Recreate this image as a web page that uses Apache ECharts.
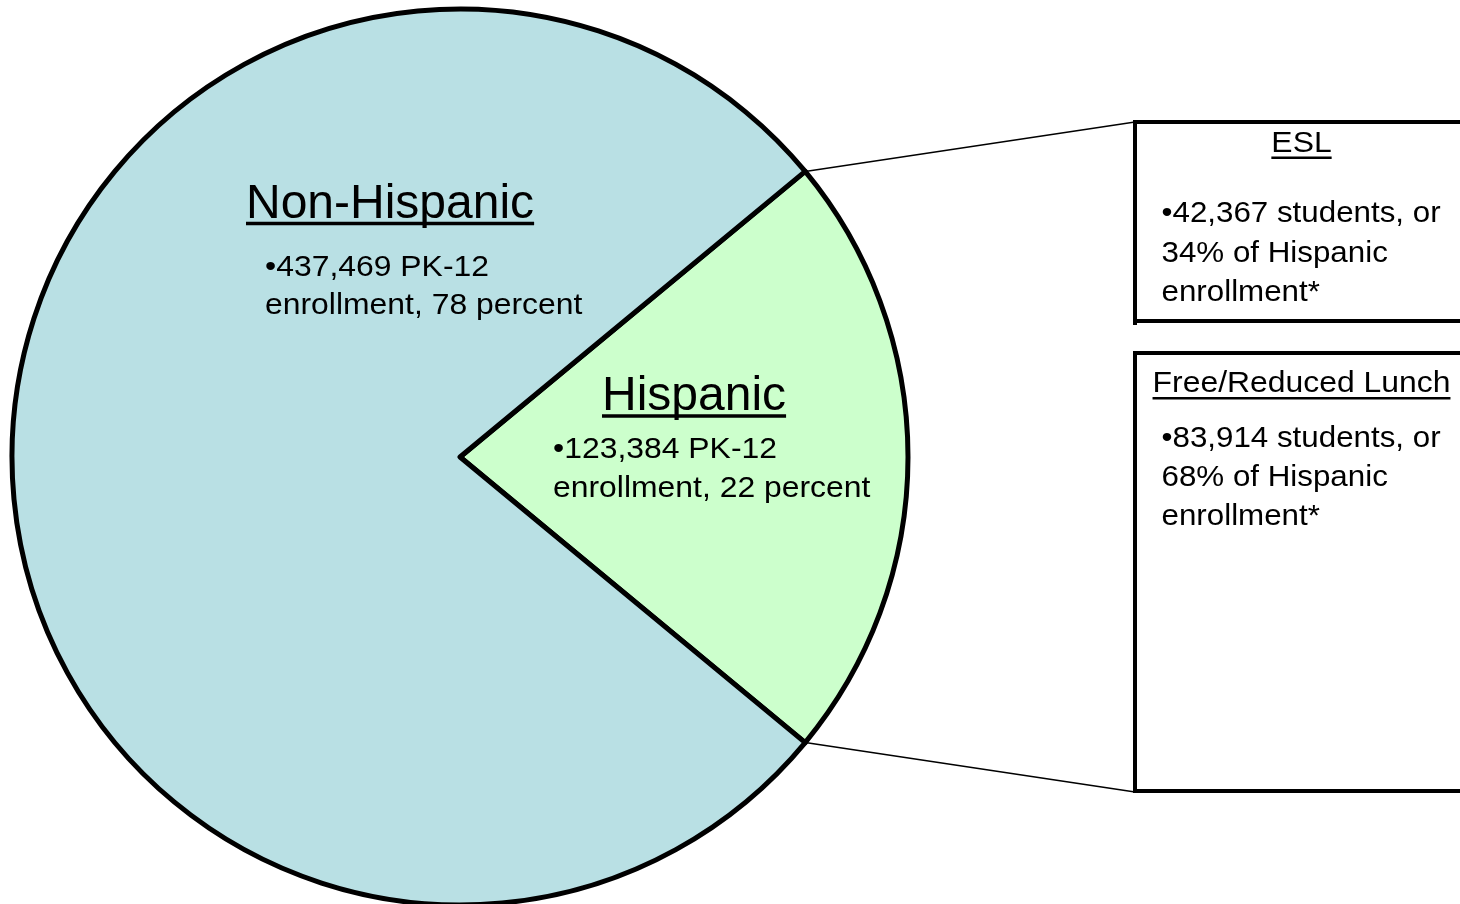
<!DOCTYPE html>
<html>
<head>
<meta charset="utf-8">
<script src="https://cdn.jsdelivr.net/npm/echarts@6/dist/echarts.min.js"></script>
<style>
html,body{margin:0;padding:0;background:#ffffff;}
#chart{width:1460px;height:904px;}
</style>
</head>
<body>
<div id="chart"></div>
<script>
// ---- data ----
const categories = ['Hispanic', 'Non-Hispanic'];
const enrollment = [123384, 437469];
const enrollmentPercent = [22, 78];
const subgroups = ['ESL', 'Free/Reduced Lunch'];
const subgroupStudents = [42367, 83914];
const subgroupPercent = [34, 68];

// ---- layout / style ----
const FONT = '"Liberation Sans", Arial, Helvetica, sans-serif';
const CX = 460, CY = 457, R = 448;
const sliceColors = ['#CCFFCC', '#B9E0E4'];

const total = enrollment.reduce((a, b) => a + b, 0);
const halfAngle = enrollment[0] / total * 180; // Hispanic slice centred on 3 o'clock

const mctx = document.createElement('canvas').getContext('2d');
function measure(str, fs) {
  mctx.font = fs + 'px ' + FONT;
  mctx.textBaseline = 'middle';
  return mctx.measureText(str);
}
const fmt = n => n.toLocaleString('en-US');

const graphics = [];
function addText(str, x, base, fs, sx, align, underline) {
  const m = measure(str, fs);
  const hDesc = measure('H', fs).actualBoundingBoxDescent;
  graphics.push({
    type: 'text', x: x, y: base - hDesc, scaleX: sx, silent: true, z: 100,
    style: { text: str, font: fs + 'px ' + FONT, fill: '#000', align: align || 'left', verticalAlign: 'middle' }
  });
  if (underline) {
    const w = m.width * sx;
    const x0 = align === 'center' ? x - w / 2 : x;
    graphics.push({
      type: 'line', silent: true, z: 100,
      shape: { x1: x0, y1: base + underline.dy, x2: x0 + w, y2: base + underline.dy },
      style: { stroke: '#000', lineWidth: underline.lw }
    });
  }
}
function addLine(x1, y1, x2, y2, lw) {
  graphics.push({ type: 'line', silent: true, z: 100, shape: { x1, y1, x2, y2 }, style: { stroke: '#000', lineWidth: lw, lineCap: 'square' } });
}

// pie texts
addText(categories[1], 246, 218, 48, 1.0, 'left', { dy: 5.5, lw: 3.5 });
addText('\u2022' + fmt(enrollment[1]) + ' PK-12', 265, 275.5, 29, 1.1);
addText('enrollment, ' + enrollmentPercent[1] + ' percent', 265, 314, 29, 1.1);
addText(categories[0], 602, 410, 48, 1.0, 'left', { dy: 6, lw: 3.5 });
addText('\u2022' + fmt(enrollment[0]) + ' PK-12', 553, 458, 29, 1.1);
addText('enrollment, ' + enrollmentPercent[0] + ' percent', 553, 497, 29, 1.1);

// connector lines from slice edge to boxes
const a = halfAngle * Math.PI / 180;
graphics.push({ type: 'line', silent: true, z: 100, shape: { x1: CX + R * Math.cos(a), y1: CY - R * Math.sin(a), x2: 1135, y2: 122 }, style: { stroke: '#000', lineWidth: 1.5 } });
graphics.push({ type: 'line', silent: true, z: 100, shape: { x1: CX + R * Math.cos(a), y1: CY + R * Math.sin(a), x2: 1135, y2: 792 }, style: { stroke: '#000', lineWidth: 1.5 } });

// boxes
addLine(1135, 122, 1470, 122, 4);
addLine(1135, 122, 1135, 323, 4);
addLine(1135, 321, 1470, 321, 4);
addLine(1135, 353, 1470, 353, 4);
addLine(1135, 353, 1135, 791, 4);
addLine(1135, 791, 1470, 791, 4);

// box texts
addText(subgroups[0], 1301.5, 152.3, 29, 1.1, 'center', { dy: 5.5, lw: 2.5 });
addText('\u2022' + fmt(subgroupStudents[0]) + ' students, or', 1161.5, 222.3, 29, 1.08);
addText(subgroupPercent[0] + '% of Hispanic', 1161.5, 261.5, 29, 1.08);
addText('enrollment*', 1161.5, 300.5, 29, 1.08);
addText(subgroups[1], 1301.5, 392.3, 29, 1.1, 'center', { dy: 6, lw: 2.5 });
addText('\u2022' + fmt(subgroupStudents[1]) + ' students, or', 1161.5, 446.7, 29, 1.08);
addText(subgroupPercent[1] + '% of Hispanic', 1161.5, 486, 29, 1.08);
addText('enrollment*', 1161.5, 525, 29, 1.08);

const chart = echarts.init(document.getElementById('chart'), null, { renderer: 'canvas' });
chart.setOption({
  animation: false,
  backgroundColor: '#ffffff',
  series: [{
    type: 'pie',
    center: [CX, CY],
    radius: R,
    startAngle: halfAngle,
    clockwise: true,
    silent: true,
    z: 2,
    label: { show: false },
    labelLine: { show: false },
    itemStyle: { borderColor: '#000', borderWidth: 5 },
    emphasis: { disabled: true },
    data: categories.map((c, i) => ({ name: c, value: enrollment[i], itemStyle: { color: sliceColors[i] } }))
  }],
  graphic: { elements: graphics }
});
</script>
</body>
</html>
